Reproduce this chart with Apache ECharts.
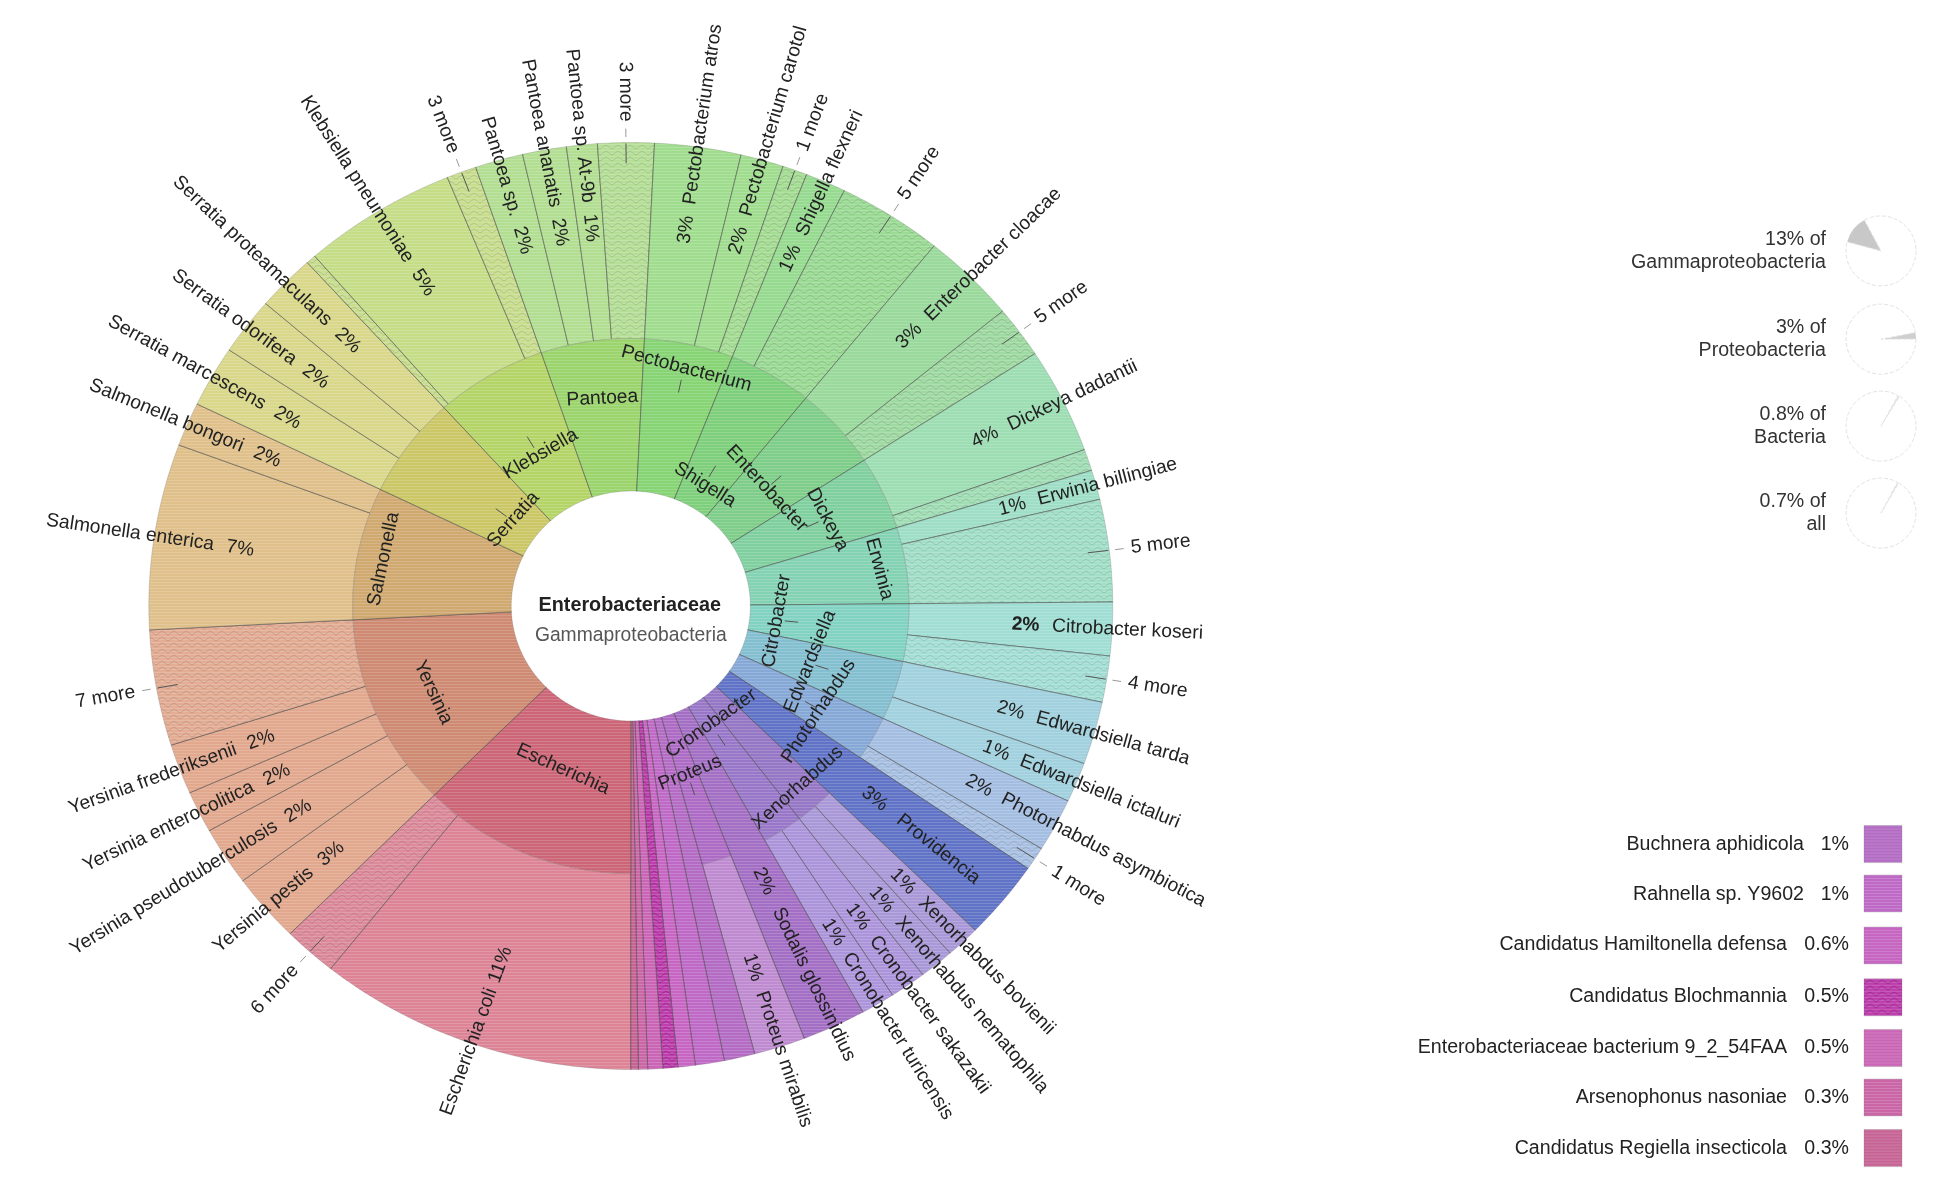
<!DOCTYPE html>
<html><head><meta charset="utf-8">
<style>html,body{margin:0;padding:0;background:#fff}#c{width:1938px;height:1192px}</style>
<script src="https://cdn.jsdelivr.net/npm/echarts@6/dist/echarts.min.js"></script>
</head><body><div id="c"></div>
<script>
// ---------- data ----------
const speciesNames = ['Escherichia coli','6 more','Yersinia pestis','Yersinia pseudotuberculosis','Yersinia enterocolitica','Yersinia frederiksenii','7 more','Salmonella enterica','Salmonella bongori','Serratia marcescens','Serratia odorifera','Serratia proteamaculans','','Klebsiella pneumoniae','3 more','Pantoea sp.','Pantoea ananatis','Pantoea sp. At-9b','3 more','Pectobacterium atros','Pectobacterium carotol','1 more','Shigella flexneri','5 more','Enterobacter cloacae','5 more','Dickeya dadantii','','Erwinia billingiae','5 more','Citrobacter koseri','4 more','Edwardsiella tarda','Edwardsiella ictaluri','Photorhabdus asymbiotica','1 more','Providencia','Xenorhabdus bovienii','Xenorhabdus nematophila','Cronobacter sakazakii','Cronobacter turicensis','Sodalis glossinidius','Proteus mirabilis','Buchnera aphidicola','Rahnella sp. Y9602','Candidatus Hamiltonella defensa','Candidatus Blochmannia','Enterobacteriaceae bacterium 9_2_54FAA','Arsenophonus nasoniae','Candidatus Regiella insecticola'];
const speciesShares = [10.7,1.8,2.4,2.05,1.45,1.75,4.03,6.47,1.53,2.14,2,1.97,0.33,5.17,1,1.61,1.47,1.03,1.89,2.89,1.44,0.83,1.36,3.53,3.19,1.81,3.69,0.75,1.03,3.56,1.86,1.61,2.19,1.39,1.86,0.81,2.75,1.14,1.17,1.22,1.14,2.14,1.72,1.03,0.97,0.58,0.5,0.5,0.31,0.25];
const speciesPctLabels = ['11%','','3%','2%','2%','2%','','7%','2%','2%','2%','2%','','5%','','2%','2%','1%','','3%','2%','','1%','','3%','','4%','','1%','','2%','','2%','1%','2%','','3%','1%','1%','1%','1%','2%','1%','','','','','','',''];
const genusNames = ['Escherichia','Yersinia','Salmonella','Serratia','Klebsiella','Pantoea','Pectobacterium','Shigella','Enterobacter','Dickeya','Erwinia','Citrobacter','Edwardsiella','Photorhabdus','Xenorhabdus','Cronobacter','Proteus'];
const speciesGenus = [0,0,1,1,1,1,1,2,2,3,3,3,4,4,4,5,5,5,5,6,6,6,7,7,8,8,9,9,10,10,11,11,12,12,13,13,-1,14,14,15,15,-1,16,-1,-1,-1,-1,-1,-1,-1];
const legendIndexes = [43,44,45,46,47,48,49];
const legendPct = ['1%','1%','0.6%','0.5%','0.5%','0.3%','0.3%'];
const ancestorTop = ['13% of','3% of','0.8% of','0.7% of'];
const ancestorBottom = ['Gammaproteobacteria','Proteobacteria','Bacteria','all'];
const ancestorShare = [13,3,0.8,0.7];
const centerTitle = 'Enterobacteriaceae';
const centerSubtitle = 'Gammaproteobacteria';

// ---------- styles and layout ----------
const genusColors = ['#CC6676','#CE8A72','#CFA96F','#CBC766','#B5D468','#9BD46D','#86D474','#7DCF7B','#7ECD88','#80CF9F','#84D2B4','#82D2C2','#84BFD0','#85A8D6','#9577C5','#9877C8','#AD6BC6'];
const outerColors = ['#DC8496','#E2A88E','#E0C08A','#D8D78A','#C6DD88','#B2DE92','#A0DC8E','#96DA90','#99D99C','#9CDDB2','#9EDEC6','#A0DED4','#A1D0DE','#A4BEE2','#A998D7','#AC94DA','#BE8AD0'];
const soloColors = {36:'#6073C6',41:'#A36FC4',43:'#B36BC4',44:'#BE69C6',45:'#C665C2',46:'#BE3EAE',47:'#CA65B6',48:'#CA65A6',49:'#C66394'};
const genusLabelPlace = [[455,622,-24],[350,560,-65],[310,452,78],[415,420,48],[437,367,30],[487,322,3],[555,298,-15],[570,392,-32],[620,395,-47],[669,420,-62],[711,460,-75],[628,502,80],[655,535,68],[662,575,57],[645,637,42],[575,585,35],[558,625,22]];
const genusTickRadius = [0,0,0,0.336,0.41,0,0.485,0.336,0.406,0.416,0,0.335,0.418,0.43,0,0.345,0.415];
const CX = 630.8, CY = 606, RX = 482, RY = 463.5;
const OVX = 510, OVY = 490, OVRX = 390, OVRY = 375;
const R0 = 0.248, R1 = 0.577, R2 = 1;
const FONT = '19.3px "Liberation Sans", Arial, sans-serif';
const LEGEND_FONT = '19.6px "Liberation Sans", Arial, sans-serif';
const BOLD = 'bold 19.8px "Liberation Sans", Arial, sans-serif';
const BOLD_PCT = 'bold 19.3px "Liberation Sans", Arial, sans-serif';
const INK = '#222';
const scaleOv = 1.236;

const cache = {};
function pattern(color, hatch) {
  const key = color + (hatch ? 'h' : '');
  if (cache[key]) return cache[key];
  const c = document.createElement('canvas');
  c.width = 24; c.height = 12;
  const g = c.getContext('2d');
  g.fillStyle = color; g.fillRect(0, 0, 24, 12);
  if (hatch && color !== '#BE3EAE') { g.fillStyle = 'rgba(255,255,255,0.05)'; g.fillRect(0, 0, 24, 12); }
  g.fillStyle = 'rgba(255,255,255,0.17)';
  for (let y = 0; y < 12; y += 3) g.fillRect(0, y, 24, 1);
  if (hatch) {
    g.lineWidth = 1;
    g.strokeStyle = color === '#BE3EAE' ? 'rgba(60,0,60,0.28)' : 'rgba(70,60,60,0.16)';
    [1, 7].forEach(y0 => {
      g.beginPath();
      g.moveTo(0, y0 + 4); g.lineTo(6, y0); g.lineTo(12, y0 + 4); g.lineTo(18, y0); g.lineTo(24, y0 + 4);
      g.stroke();
    });
  }
  return cache[key] = { image: c, repeat: 'repeat' };
}

// angles from the shares (clockwise from six o'clock)
const total = speciesShares.reduce((a, b) => a + b, 0);
const edges = [0];
speciesShares.forEach(v => edges.push(edges[edges.length - 1] + v / total * 360));
const isHatched = i => /more$/.test(speciesNames[i]) || speciesNames[i] === '' || speciesNames[i] === 'Candidatus Blochmannia';

const arcs = [];
speciesNames.forEach((n, i) => {
  const g = speciesGenus[i];
  if (g < 0) arcs.push([edges[i], edges[i + 1], R0, R2, soloColors[i], isHatched(i) ? 1 : 0]);
  else arcs.push([edges[i], edges[i + 1], R1, R2, outerColors[g], isHatched(i) ? 1 : 0]);
});
const genusSpan = g => {
  const idx = speciesGenus.map((v, i) => v === g ? i : -1).filter(i => i >= 0);
  return [edges[idx[0]], edges[idx[idx.length - 1] + 1]];
};
genusNames.forEach((n, g) => {
  const s = genusSpan(g);
  arcs.push([s[0], s[1], R0, R1, genusColors[g], 0]);
});

const pt = (deg, r) => { const a = deg * Math.PI / 180; return [-r * Math.sin(a), -r * Math.cos(a)]; };

function arcItem(params, api) {
  const [a0, a1, r0, r1] = [api.value(0), api.value(1), api.value(2), api.value(3)];
  const d = arcs[params.dataIndex];
  const points = [];
  const steps = Math.max(2, Math.ceil(a1 - a0));
  for (let s = 0; s <= steps; s++) points.push(api.coord(pt(a0 + (a1 - a0) * s / steps, r1)));
  for (let s = steps; s >= 0; s--) points.push(api.coord(pt(a0 + (a1 - a0) * s / steps, r0)));
  const e = (deg) => {
    const p = api.coord(pt(deg, r0)), q = api.coord(pt(deg, r1));
    return { type: 'line', shape: { x1: p[0], y1: p[1], x2: q[0], y2: q[1] }, style: { stroke: 'rgba(60,60,60,0.36)', lineWidth: 1 } };
  };
  return { type: 'group', children: [
    { type: 'polygon', shape: { points }, style: { fill: pattern(d[4], d[5]), stroke: 'rgba(90,90,90,0.22)', lineWidth: 1 } },
    e(a0), e(a1)
  ] };
}

// text labels along the radius
const textItems = [];
speciesNames.forEach((n, i) => {
  if (!n) return;
  if (legendIndexes.includes(i)) return;
  const mid = (edges[i] + edges[i + 1]) / 2;
  const solo = speciesGenus[i] < 0;
  if (/more$/.test(n)) {
    textItems.push({ kind: 'tick', mid, r0: 0.955, r1: 0.998, color: '#555' });
    textItems.push({ kind: 'tick', mid, r0: 1.012, r1: 1.03, color: '#999' });
    textItems.push({ kind: 'radial', mid, r: 1.045, text: n, font: FONT, anchor: 'name' });
  } else {
    textItems.push({ kind: 'radial', mid, r: solo ? 0.72 : 0.875, text: n, font: FONT, anchor: 'name' });
    if (speciesPctLabels[i]) textItems.push({ kind: 'radial', mid, r: solo ? 0.655 : 0.82, text: speciesPctLabels[i], font: n === 'Citrobacter koseri' ? BOLD_PCT : FONT, anchor: 'center' });
  }
});
genusNames.forEach((n, g) => {
  const p = genusLabelPlace[g];
  textItems.push({ kind: 'fixed', nx: (p[0] - OVX) / OVRX, ny: (OVY - p[1]) / OVRY, rot: p[2], text: n });
  if (genusTickRadius[g]) {
    const s = genusSpan(g);
    textItems.push({ kind: 'tick', mid: (s[0] + s[1]) / 2, r0: genusTickRadius[g] - 0.014, r1: genusTickRadius[g] + 0.014, color: '#555' });
  }
});

function labelItem(params, api) {
  const t = textItems[api.value(0)];
  if (t.kind === 'tick') {
    const a = api.coord(pt(t.mid, t.r0)), b = api.coord(pt(t.mid, t.r1));
    return { type: 'line', shape: { x1: a[0], y1: a[1], x2: b[0], y2: b[1] }, style: { stroke: t.color, lineWidth: 1 } };
  }
  if (t.kind === 'fixed') {
    const p = api.coord([t.nx, t.ny]);
    return { type: 'text', x: p[0], y: p[1], rotation: t.rot * Math.PI / 180,
      style: { text: t.text, font: FONT, fill: INK, align: 'center', verticalAlign: 'middle' } };
  }
  const p = api.coord(pt(t.mid, t.r));
  const o = api.coord([0, 0]);
  const phi = Math.atan2(o[1] - p[1], p[0] - o[0]);
  const leftSide = t.mid < 180;
  const rotation = leftSide ? phi - Math.PI : phi;
  const align = t.anchor === 'center' ? 'center' : (leftSide ? 'right' : 'left');
  return { type: 'text', x: p[0], y: p[1], rotation,
    style: { text: t.text, font: t.font, fill: INK, align, verticalAlign: 'middle' } };
}

// side panels
const graphic = [];
const legendY = [682, 722, 763, 805, 846, 886, 928].map(v => v * scaleOv + 2);
const swatchY = [682, 722, 764, 806, 847, 887, 928].map(v => v * scaleOv + 0.6);
legendIndexes.forEach((idx, k) => {
  const narrow = legendPct[k] === '1%';
  graphic.push({ type: 'text', x: narrow ? 1804 : 1787, y: legendY[k], silent: true,
    style: { text: speciesNames[idx], font: LEGEND_FONT, fill: INK, align: 'right', verticalAlign: 'middle' } });
  graphic.push({ type: 'text', x: 1849, y: legendY[k], silent: true,
    style: { text: legendPct[k], font: LEGEND_FONT, fill: INK, align: 'right', verticalAlign: 'middle' } });
  graphic.push({ type: 'rect', x: 1864, y: swatchY[k] - 18, shape: { width: 38, height: 37 }, silent: true,
    style: { fill: pattern(soloColors[idx], isHatched(idx)), stroke: 'rgba(120,120,120,0.25)', lineWidth: 1 } });
});
const infoY = [193, 264, 334, 404].map(v => v * 1.2423);
const pieY = [202, 273, 343, 413].map(v => v * 1.2423);
const pieStart = [165, 11, 61, 62];
const pieColor = ['#c8c8c8', '#cfcfcf', '#e4e4e4', '#e4e4e4'];
ancestorTop.forEach((t, k) => {
  graphic.push({ type: 'text', x: 1826, y: infoY[k], silent: true, style: { text: t, font: LEGEND_FONT, fill: '#333', align: 'right', verticalAlign: 'middle' } });
  graphic.push({ type: 'text', x: 1826, y: infoY[k] + 23, silent: true, style: { text: ancestorBottom[k], font: LEGEND_FONT, fill: '#333', align: 'right', verticalAlign: 'middle' } });
});
graphic.push({ type: 'text', x: CX - 1, y: OVY * scaleOv, silent: true, style: { text: centerTitle, font: BOLD, fill: '#222', align: 'center', verticalAlign: 'middle' } });
graphic.push({ type: 'text', x: CX, y: 514 * scaleOv, silent: true, style: { text: centerSubtitle, font: FONT, fill: '#555', align: 'center', verticalAlign: 'middle' } });

const pies = ancestorShare.map((v, k) => ({
  type: 'pie', silent: true, animation: false, center: [1881, pieY[k]], radius: [0, 35], startAngle: pieStart[k], clockwise: true,
  label: { show: false }, labelLine: { show: false },
  data: [
    { value: v, itemStyle: { color: pieColor[k] } },
    { value: 100 - v, itemStyle: { color: '#fff', borderColor: '#e2e2e2', borderWidth: 1, borderType: 'dashed' } }
  ]
}));

const chart = echarts.init(document.getElementById('c'), null, { width: 1938, height: 1192 });
chart.setOption({
  animation: false,
  backgroundColor: '#fff',
  grid: { left: CX - RX, top: CY - RY, width: 2 * RX, height: 2 * RY, show: false },
  xAxis: { type: 'value', min: -1, max: 1, show: false },
  yAxis: { type: 'value', min: -1, max: 1, show: false },
  graphic,
  series: [
    { type: 'custom', coordinateSystem: 'cartesian2d', silent: true, clip: false, z: 2, renderItem: arcItem,
      encode: { x: [], y: [] }, data: arcs.map(a => a.slice(0, 4)) },
    { type: 'custom', coordinateSystem: 'cartesian2d', silent: true, clip: false, z: 3, renderItem: labelItem,
      encode: { x: [], y: [] }, data: textItems.map((t, i) => [i]) }
  ].concat(pies)
});
</script></body></html>
